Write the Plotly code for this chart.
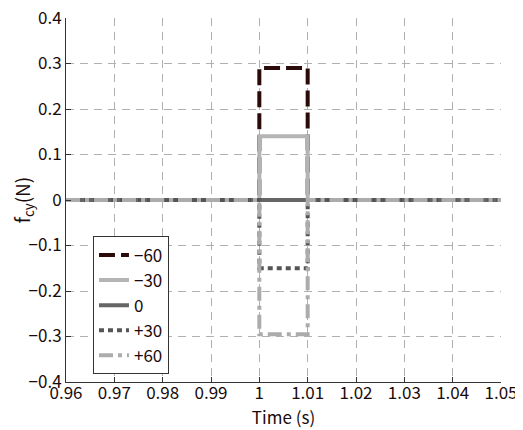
import plotly.graph_objects as go

time_pts = [0.96, 1.0, 1.0, 1.01, 1.01, 1.05]
names = ["\u221260", "\u221230", "0", "+30", "+60"]
levels = [0.29, 0.14, 0.0, -0.15, -0.295]
colors = ["#2b0a0a", "#b4b4b4", "#666666", "#555555", "#acacac"]
dashes = ["16px,6px", "solid", "solid", "5px,4px", "14px,5px,4px,5px"]

x_ticks = [0.96, 0.97, 0.98, 0.99, 1.0, 1.01, 1.02, 1.03, 1.04, 1.05]
x_labels = ["0.96", "0.97", "0.98", "0.99", "1", "1.01", "1.02", "1.03", "1.04", "1.05"]
y_ticks = [-0.4, -0.3, -0.2, -0.1, 0, 0.1, 0.2, 0.3, 0.4]
y_labels = ["\u22120.4", "\u22120.3", "\u22120.2", "\u22120.1", "0", "0.1", "0.2", "0.3", "0.4"]

font = "Noto Sans CJK JP, Noto Sans, sans-serif"
txt = "#1a0a0a"

fig = go.Figure()
for n, v, c, d in zip(names, levels, colors, dashes):
    fig.add_trace(go.Scatter(
        x=time_pts, y=[0, 0, v, v, 0, 0], mode="lines", name=n,
        line=dict(color=c, width=4, dash=d)))

# page body has an 8px margin, so the figure is sized/offset to compensate
fig.update_layout(
    width=515, height=422,
    margin=dict(l=58, r=22, t=10, b=48),
    paper_bgcolor="white", plot_bgcolor="white",
    font=dict(family=font, size=17, color=txt),
    showlegend=True,
    legend=dict(x=0.062, y=0.40, xanchor="left", yanchor="top",
                bgcolor="white", bordercolor="#333333", borderwidth=1,
                font=dict(size=17, color=txt), tracegroupgap=0,
                itemwidth=30),
    xaxis=dict(range=[0.96, 1.05], tickvals=x_ticks, ticktext=x_labels,
               showgrid=True, gridcolor="#b0b0b0", griddash="8px,6px", gridwidth=1,
               showline=True, linecolor="#333333", linewidth=1,
               ticks="inside", ticklen=5, tickcolor="#333333",
               zeroline=False, automargin=False, ticklabelstandoff=-4,
               ticklabeloverflow="allow",
               title=dict(text="Time (s)", font=dict(size=17), standoff=0)),
    yaxis=dict(range=[-0.4, 0.4], tickvals=y_ticks, ticktext=y_labels,
               showgrid=True, gridcolor="#b0b0b0", griddash="8px,6px", gridwidth=1,
               showline=True, linecolor="#333333", linewidth=1,
               ticks="inside", ticklen=5, tickcolor="#333333",
               zeroline=False, automargin=False, ticklabeloverflow="allow",
               title=dict(text="f<sub>cy</sub>(N)", font=dict(size=19), standoff=2)),
)
fig.write_html("out.html")
